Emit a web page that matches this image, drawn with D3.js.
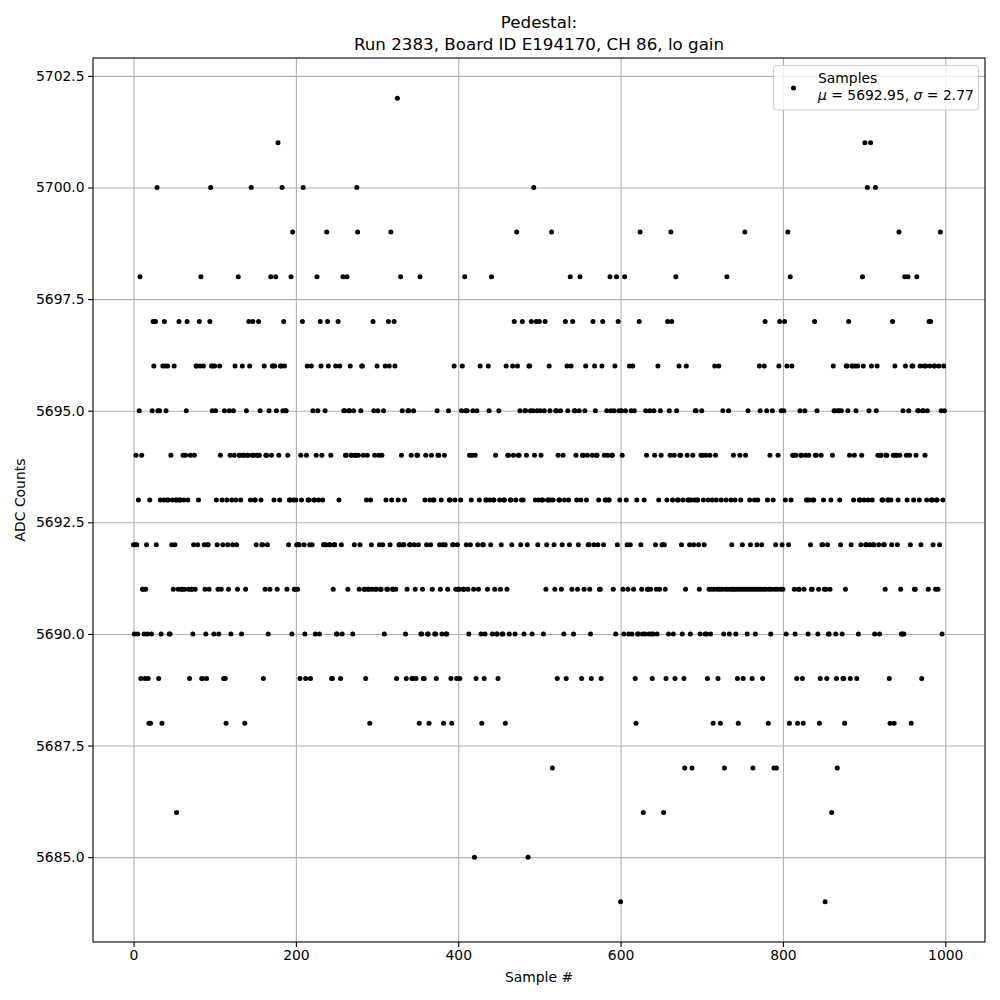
<!DOCTYPE html>
<html>
<head>
<meta charset="utf-8">
<script src="https://cdn.jsdelivr.net/npm/d3@7"></script>
<style>
  body { margin: 0; background: #fff; }
  svg { display: block; font-family: "DejaVu Sans", sans-serif; }
</style>
</head>
<body>
<div id="chart"></div>
<script>
// ADC counts per sample in blocks of 100 samples
const block0 = [5692,5690,5692,5694,5692,5690,5693,5695,5698,5689,5694,5691,5691,5690,5689,5691,5692,5690,5689,5688,5693,5688,5690,5695,5697,5696,5697,5697,5692,5700,5695,5689,5695,5693,5690,5688,5696,5693,5697,5696,5695,5693,5696,5693,5690,5690,5694,5692,5693,5691,5696,5692,5693,5686,5693,5691,5697,5693,5693,5691,5691,5694,5693,5691,5694,5695,5697,5693,5691,5689,5694,5691,5691,5690,5692,5694,5691,5696,5696,5692,5693,5697,5696,5698,5689,5689,5696,5692,5691,5690,5689,5692,5692,5691,5697,5700,5696,5695,5696,5690];
const block1 = [5696,5695,5693,5692,5691,5690,5696,5694,5691,5693,5692,5689,5695,5689,5688,5693,5692,5691,5695,5694,5690,5693,5692,5695,5694,5696,5693,5692,5691,5698,5694,5694,5693,5690,5696,5694,5694,5688,5691,5695,5694,5694,5697,5696,5693,5700,5694,5697,5694,5693,5693,5692,5694,5694,5697,5694,5695,5693,5692,5692,5689,5696,5691,5694,5694,5692,5690,5695,5691,5698,5694,5696,5696,5693,5696,5698,5695,5691,5701,5694,5693,5696,5696,5700,5695,5697,5696,5695,5695,5691,5694,5692,5693,5693,5698,5690,5699,5693,5691,5691];
const block2 = [5693,5692,5691,5692,5692,5689,5694,5693,5697,5700,5692,5690,5689,5694,5696,5693,5693,5692,5689,5696,5692,5695,5693,5693,5690,5694,5698,5695,5693,5690,5697,5696,5694,5693,5692,5692,5695,5692,5699,5697,5696,5692,5692,5694,5689,5689,5691,5692,5692,5696,5690,5690,5697,5693,5696,5689,5692,5690,5698,5695,5695,5694,5694,5698,5691,5695,5695,5696,5694,5694,5690,5695,5692,5694,5694,5700,5699,5694,5691,5692,5695,5696,5696,5694,5691,5691,5689,5693,5694,5691,5691,5688,5693,5692,5691,5697,5695,5694,5691,5691];
const block3 = [5696,5695,5694,5692,5691,5691,5694,5692,5695,5690,5696,5693,5691,5691,5697,5696,5692,5699,5693,5691,5691,5697,5696,5691,5689,5702,5693,5692,5692,5698,5694,5695,5692,5692,5693,5690,5689,5691,5695,5695,5692,5692,5694,5689,5689,5695,5692,5691,5689,5694,5694,5692,5688,5698,5690,5690,5691,5689,5689,5693,5694,5692,5690,5690,5688,5693,5692,5694,5691,5693,5693,5690,5690,5689,5695,5694,5694,5692,5691,5693,5690,5692,5688,5694,5692,5690,5690,5691,5695,5693,5693,5689,5688,5692,5692,5696,5693,5691,5689,5692];
const block4 = [5691,5691,5689,5693,5695,5696,5691,5691,5698,5695,5692,5695,5691,5690,5694,5692,5693,5694,5695,5691,5685,5694,5689,5695,5692,5691,5693,5696,5690,5688,5692,5692,5689,5690,5693,5693,5691,5696,5695,5693,5692,5698,5690,5693,5693,5691,5694,5690,5690,5689,5695,5693,5691,5692,5690,5690,5693,5693,5688,5696,5691,5694,5694,5690,5693,5693,5692,5696,5694,5697,5690,5693,5699,5696,5694,5694,5695,5692,5693,5697,5693,5690,5695,5695,5694,5692,5685,5696,5696,5695,5697,5690,5695,5700,5694,5693,5697,5695,5692,5693];
const block5 = [5697,5695,5694,5693,5693,5690,5695,5697,5691,5692,5693,5693,5696,5695,5693,5699,5687,5693,5692,5691,5695,5695,5689,5694,5693,5693,5695,5691,5692,5694,5690,5693,5697,5689,5696,5695,5693,5692,5698,5696,5691,5697,5690,5695,5695,5694,5693,5691,5692,5695,5698,5693,5689,5694,5694,5691,5695,5696,5693,5694,5692,5692,5691,5690,5689,5694,5697,5692,5696,5695,5694,5694,5692,5693,5691,5691,5689,5696,5697,5692,5694,5693,5693,5695,5694,5693,5693,5698,5695,5694,5694,5691,5695,5696,5690,5698,5692,5697,5695,5693];
const block6 = [5684,5695,5694,5691,5690,5698,5695,5693,5692,5691,5690,5696,5692,5695,5690,5696,5691,5695,5689,5688,5693,5690,5690,5697,5699,5692,5691,5690,5686,5693,5690,5695,5694,5691,5691,5690,5695,5691,5690,5689,5690,5695,5694,5692,5691,5690,5696,5693,5691,5695,5694,5692,5692,5686,5692,5691,5689,5693,5697,5690,5695,5694,5699,5697,5693,5690,5694,5689,5698,5695,5693,5693,5696,5694,5694,5692,5690,5693,5689,5687,5691,5696,5694,5693,5693,5692,5690,5693,5687,5694,5692,5693,5695,5695,5693,5693,5692,5691,5690,5694];
const block7 = [5695,5694,5693,5692,5690,5694,5690,5689,5693,5691,5694,5690,5691,5693,5688,5691,5696,5694,5693,5691,5689,5696,5691,5688,5693,5691,5695,5690,5687,5691,5693,5698,5691,5695,5690,5691,5693,5692,5691,5694,5691,5693,5690,5691,5689,5688,5691,5694,5693,5691,5692,5689,5691,5699,5694,5691,5690,5695,5691,5693,5692,5691,5689,5687,5691,5693,5690,5691,5692,5693,5691,5696,5695,5691,5692,5689,5691,5696,5697,5691,5695,5693,5688,5691,5694,5690,5691,5695,5693,5687,5691,5692,5687,5691,5694,5696,5697,5691,5695,5692];
const block8 = [5691,5695,5697,5693,5690,5696,5699,5692,5688,5698,5693,5696,5694,5694,5691,5690,5694,5689,5688,5691,5691,5695,5694,5694,5689,5688,5691,5695,5694,5693,5693,5690,5694,5693,5692,5691,5691,5693,5693,5697,5694,5694,5695,5690,5691,5688,5689,5694,5692,5692,5693,5691,5684,5691,5689,5692,5690,5690,5691,5693,5686,5694,5696,5695,5695,5690,5689,5687,5695,5695,5693,5692,5695,5690,5689,5689,5688,5691,5696,5696,5695,5697,5694,5689,5692,5696,5696,5693,5694,5696,5695,5689,5696,5690,5693,5693,5692,5694,5698,5696];
const block9 = [5693,5701,5692,5692,5700,5693,5695,5692,5701,5696,5693,5692,5692,5690,5700,5695,5696,5694,5692,5690,5694,5694,5693,5693,5692,5692,5691,5694,5694,5693,5693,5689,5688,5693,5692,5697,5694,5688,5696,5694,5694,5692,5693,5699,5694,5691,5690,5690,5695,5690,5698,5696,5694,5693,5698,5695,5694,5692,5688,5696,5696,5693,5691,5691,5694,5698,5695,5695,5693,5696,5692,5689,5695,5695,5696,5694,5696,5693,5695,5691,5697,5696,5697,5693,5693,5692,5696,5696,5691,5693,5693,5691,5696,5692,5699,5695,5690,5693,5696,5695];

const adcCounts = block0.concat(block1, block2, block3, block4, block5, block6, block7, block8, block9);

const xTicks = [0, 200, 400, 600, 800, 1000];
const yTicks = [5685, 5687.5, 5690, 5692.5, 5695, 5697.5, 5700, 5702.5];

const titleLines = ['Pedestal:', 'Run 2383, Board ID E194170, CH 86, lo gain'];
const legendLabel = 'Samples';
const legendMu = '5692.95';
const legendSigma = '2.77';

const width = 1000;
const height = 1000;
const margin = { top: 58, right: 15, bottom: 58, left: 93 };
const plotW = width - margin.left - margin.right;
const plotH = height - margin.top - margin.bottom;
const tickFont = '13.9px';

const svg = d3.select('#chart')
    .append('svg')
    .attr('width', width)
    .attr('height', height);

svg.append('rect').attr('width', width).attr('height', height).attr('fill', '#fff');

// 5% margins around the data range, like matplotlib
const x = d3.scaleLinear()
    .domain([-49.95, 1048.95])
    .range([margin.left, width - margin.right]);
const y = d3.scaleLinear()
    .domain([5683.1, 5702.9])
    .range([height - margin.bottom, margin.top]);

// grid
const gridX = svg.append('g')
    .attr('transform', `translate(0,${margin.top})`)
    .call(d3.axisTop(x).tickValues(xTicks).tickSize(-plotH).tickFormat(''));
const gridY = svg.append('g')
    .attr('transform', `translate(${margin.left},0)`)
    .call(d3.axisLeft(y).tickValues(yTicks).tickSize(-plotW).tickFormat(''));
[gridX, gridY].forEach(g => {
    g.select('.domain').remove();
    g.selectAll('line').attr('stroke', '#b0b0b0').attr('stroke-width', 1.1);
});

// samples
svg.append('g')
    .selectAll('circle')
    .data(adcCounts)
    .join('circle')
    .attr('cx', (d, i) => x(i))
    .attr('cy', d => y(d))
    .attr('r', 2.5)
    .attr('fill', '#000');

// frame
svg.append('rect')
    .attr('x', margin.left)
    .attr('y', margin.top)
    .attr('width', plotW)
    .attr('height', plotH)
    .attr('fill', 'none')
    .attr('stroke', '#000')
    .attr('stroke-width', 1.1);

// axes
const xAxis = svg.append('g')
    .attr('transform', `translate(0,${height - margin.bottom})`)
    .call(d3.axisBottom(x).tickValues(xTicks).tickSize(4.9).tickPadding(3.5).tickFormat(d3.format('d')));
const yAxis = svg.append('g')
    .attr('transform', `translate(${margin.left},0)`)
    .call(d3.axisLeft(y).tickValues(yTicks).tickSize(4.9).tickPadding(3.5).tickFormat(d3.format('.1f')));
[xAxis, yAxis].forEach(g => {
    g.select('.domain').remove();
    g.selectAll('line').attr('stroke', '#000').attr('stroke-width', 1.1);
    g.selectAll('text')
        .attr('fill', '#000')
        .style('font-size', tickFont)
        .style('font-family', '"DejaVu Sans", sans-serif');
});

// axis labels
svg.append('text')
    .attr('x', margin.left + plotW / 2)
    .attr('y', 982)
    .attr('text-anchor', 'middle')
    .style('font-size', tickFont)
    .text('Sample #');
svg.append('text')
    .attr('transform', `translate(25,${margin.top + plotH / 2}) rotate(-90)`)
    .attr('text-anchor', 'middle')
    .style('font-size', tickFont)
    .text('ADC Counts');

// title
svg.append('g')
    .selectAll('text')
    .data(titleLines)
    .join('text')
    .attr('x', margin.left + plotW / 2)
    .attr('y', (d, i) => 28 + i * 22)
    .attr('text-anchor', 'middle')
    .style('font-size', '16.7px')
    .text(d => d);

// legend
const legend = svg.append('g');
legend.append('rect')
    .attr('x', 773.5)
    .attr('y', 65.5)
    .attr('width', 205)
    .attr('height', 44.5)
    .attr('rx', 3)
    .attr('fill', '#fff')
    .attr('fill-opacity', 0.8)
    .attr('stroke', '#cccccc')
    .attr('stroke-width', 1);
legend.append('circle')
    .attr('cx', 793.5)
    .attr('cy', 88)
    .attr('r', 2.5)
    .attr('fill', '#000');
legend.append('text')
    .attr('x', 818)
    .attr('y', 82.5)
    .style('font-size', tickFont)
    .text(legendLabel);
const stats = legend.append('text')
    .attr('x', 818)
    .attr('y', 100)
    .style('font-size', tickFont);
stats.append('tspan').style('font-style', 'italic').text('\u03bc');
stats.append('tspan').text(` = ${legendMu}, `);
stats.append('tspan').style('font-style', 'italic').text('\u03c3');
stats.append('tspan').text(` = ${legendSigma}`);
</script>
</body>
</html>
